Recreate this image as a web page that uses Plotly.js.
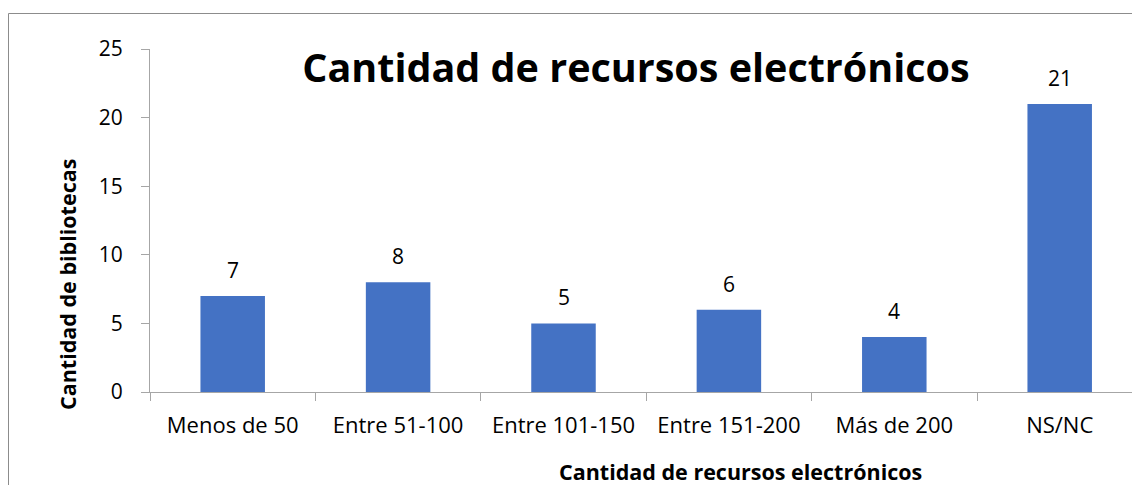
<!DOCTYPE html>
<html><head><meta charset="utf-8">
<script src="https://cdn.plot.ly/plotly-3.0.1.min.js"></script>
<style>html,body{margin:0;padding:0;background:#fff;}#chart{width:1132px;height:485px;}</style>
</head><body><div id="chart"></div>
<script>
const categories = ["Menos de 50", "Entre 51-100", "Entre 101-150", "Entre 151-200", "Más de 200", "NS/NC"];
const values = [7, 8, 5, 6, 4, 21];
const yTicks = [0, 5, 10, 15, 20, 25];

const FONT = "Open Sans, Noto Sans, sans-serif";
const W = 1132, H = 485, L = 150, T = 49, B = 93;
const plotW = W - L, plotH = H - T - B;
const px = x => (x - L) / plotW;
const py = y => (H - B - y) / plotH;

const trace = {
  type: 'bar', x: categories, y: values,
  marker: {color: '#4472C4'}, width: 0.39, hoverinfo: 'x+y'
};

const labelAnn = categories.map((c, i) => ({
  x: c, y: values[i], xref: 'x', yref: 'y', text: String(values[i]),
  showarrow: false, yanchor: 'middle', yshift: 26,
  font: {family: FONT, size: 21, color: '#000'}
}));

const layout = {
  width: W, height: H,
  margin: {l: L, r: 0, t: T, b: B},
  paper_bgcolor: '#fff', plot_bgcolor: '#fff',
  showlegend: false,
  font: {family: FONT, color: '#000'},
  title: {text: '<b>Cantidad de recursos electrónicos</b>', x: 636 / W, xanchor: 'center',
          y: 1 - 68 / H, yanchor: 'middle', yref: 'container',
          font: {family: FONT, size: 39.5, color: '#000'}},
  xaxis: {type: 'category', range: [-0.5, -0.5 + plotW / 165.4], tickson: 'boundaries',
          ticks: 'outside', ticklen: 8, tickcolor: '#a6a6a6', showline: true, linecolor: '#a6a6a6',
          linewidth: 1, showgrid: false, zeroline: false, ticklabelstandoff: 14,
          tickfont: {family: FONT, size: 22, color: '#000'}},
  yaxis: {range: [0, 25], tickvals: yTicks, ticks: 'outside', ticklen: 8, tickcolor: '#a6a6a6',
          showline: true, linecolor: '#a6a6a6', linewidth: 1, showgrid: false, zeroline: false,
          ticklabelstandoff: 14, tickfont: {family: FONT, size: 21, color: '#000'}},
  annotations: labelAnn.concat([
    {xref: 'paper', yref: 'paper', x: px(67), y: py(285), text: '<b>Cantidad de bibliotecas</b>',
     textangle: -90, showarrow: false, xanchor: 'center', yanchor: 'middle',
     font: {family: FONT, size: 21.5, color: '#000'}},
    {xref: 'paper', yref: 'paper', x: px(740), y: py(471), text: '<b>Cantidad de recursos electrónicos</b>',
     showarrow: false, xanchor: 'center', yanchor: 'middle',
     font: {family: FONT, size: 21.5, color: '#000'}}
  ]),
  shapes: [{type: 'rect', xref: 'paper', yref: 'paper', x0: px(8.5), x1: px(1140), y0: py(495), y1: py(13.5),
            line: {color: '#8c8c8c', width: 1}, fillcolor: 'rgba(0,0,0,0)', layer: 'above'}]
};

Plotly.newPlot('chart', [trace], layout, {displayModeBar: false, staticPlot: true});
</script></body></html>
